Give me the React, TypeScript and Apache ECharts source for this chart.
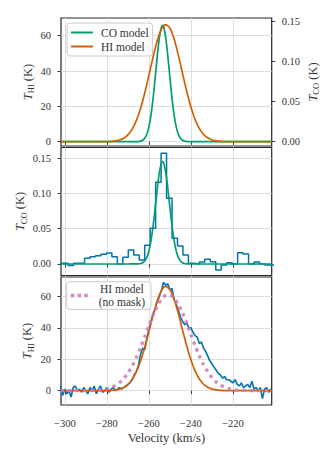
import React, { useEffect, useRef } from 'react';
import * as echarts from 'echarts';

// ---------- tick labels ----------
const xTicks = [-300, -280, -260, -240, -220];
const thiTicks = [0, 20, 40, 60];
const tcoTicks = [0, 0.05, 0.1, 0.15];

// ---------- HI model (K) ----------
const hiModelV = [-302, -290, -284, -280, -278, -276, -274, -272, -270, -268, -266, -264, -262, -260, -258, -256, -254, -252, -250, -248, -246, -244, -242, -240, -238, -236, -234, -232, -230, -228, -226, -224, -222, -218, -210, -201.6];
const hiModelT = [0, 0, 0.01, 0.07, 0.18, 0.43, 0.97, 2.0, 3.9, 7.0, 11.9, 18.7, 27.4, 37.6, 48.0, 57.3, 63.8, 66.3, 64.3, 58.1, 49.0, 38.6, 28.4, 19.5, 12.4, 7.4, 4.1, 2.2, 1.0, 0.5, 0.2, 0.08, 0.03, 0, 0, 0];

// ---------- CO model (K) ----------
const coModelV = [-302, -280, -270, -266, -265, -264, -263, -262, -261, -260, -259, -258, -257, -256, -255, -254, -253.5, -253, -252, -251, -250, -249, -248, -247, -246, -245, -244, -243, -242, -241, -240, -230, -201.6];
const coModelT = [0, 0, 0, 0.0001, 0.0002, 0.0007, 0.0018, 0.0043, 0.0093, 0.0184, 0.0331, 0.0539, 0.0797, 0.1069, 0.1299, 0.1432, 0.145, 0.1432, 0.1299, 0.1069, 0.0797, 0.0539, 0.0331, 0.0184, 0.0093, 0.0043, 0.0018, 0.0007, 0.0002, 0.0001, 0, 0, 0];

// ---------- CO spectrum (K), channel edges and values ----------
const coEdges = [-303.6, -301.0, -298.4, -295.8, -293.2, -290.6, -288.0, -285.4, -282.8, -280.2, -277.6, -275.0, -272.4, -269.8, -267.2, -264.6, -262.0, -259.4, -256.8, -254.2, -251.6, -249.0, -246.4, -243.8, -241.2, -238.6, -236.0, -233.4, -230.8, -228.2, -225.6, -223.0, -220.4, -217.8, -215.2, -212.6, -210.0, -207.4, -204.8, -202.2, -199.6];
const coData = [0.001, 0.001, -0.002, 0.001, 0.001, 0.008, 0.0104, 0.0118, 0.0137, 0.0156, 0.0104, 0.0, 0.0094, 0.0198, 0.0127, 0.0057, 0.0264, 0.0505, 0.1157, 0.1567, 0.093, 0.0363, 0.0255, 0.0127, 0.001, 0.0, 0.0028, 0.0066, 0.0033, -0.0085, -0.0014, 0.0019, 0.0, 0.016, 0.0142, 0.0, 0.0028, 0.0, -0.0014, -0.0014];

// ---------- HI spectrum (K) ----------
const hiDataV = [-302, -301, -300, -299, -298, -297, -296, -295, -294, -293, -292, -291, -290, -289, -288, -287, -286, -285, -284, -283, -282, -281, -280, -279, -278, -277, -276, -275, -274, -273, -272, -271, -270, -269, -268, -267, -266, -265, -264, -263, -262, -261, -260, -259, -258, -257, -256, -255, -254, -253, -252, -251, -250, -249, -248, -247, -246, -245, -244, -243, -242, -241, -240, -239, -238, -237, -236, -235, -234, -233, -232, -231, -230, -229, -228, -227, -226, -225, -224, -223, -222, -221, -220, -219, -218, -217, -216, -215, -214, -213, -212, -211, -210, -209, -208, -207, -206, -205, -204, -203, -202];
const hiDataT = [3, -3, 1, -2, 0, -4, 2, 3, 0, 1, -1, 2, 0, -2, 2, 0, 3, -2, 1, 3, -1, 0, 2, -1, 1, 2, 0, 1, 2, 1, 2, 3, 4, 5, 7, 10, 12, 16, 23, 27, 26, 33, 39, 44, 49, 52, 57, 60, 64, 69, 67, 68, 64, 65, 58, 55, 51, 47, 44, 42, 43, 40, 40, 37, 35, 34, 30, 31, 27, 25, 22, 19, 17, 15, 13, 11, 10, 8, 9, 7, 7, 6, 5, 7, 4, 3, 5, 2, 3, 4, 2, 6, 1, 2, 0, 2, -5, 1, 2, -1, 1];

// ---------- HI model, no mask (K) ----------
const hiNoMaskV = [-302, -294, -290, -286, -282, -280, -278, -276, -274, -272, -270, -268, -266, -264, -262, -260, -258, -256, -254, -252, -250, -248, -246, -244, -242, -240, -238, -236, -234, -232, -230, -228, -226, -224, -222, -220, -218, -214, -210, -201.6];
const hiNoMaskT = [0, 0, 0.05, 0.2, 0.68, 1.18, 2.0, 3.24, 5.07, 7.64, 11.1, 15.5, 21.0, 27.3, 34.2, 41.3, 48.0, 53.8, 58.2, 60.6, 60.8, 58.8, 54.8, 49.3, 42.6, 35.6, 28.6, 22.2, 16.5, 11.9, 8.25, 5.5, 3.55, 2.2, 1.32, 0.76, 0.42, 0.12, 0.03, 0];

const GREEN = '#029e73';
const ORANGE = '#d55e00';
const BLUE = '#0173b2';
const PINK = '#cc78bc';
const FONT = 'Liberation Serif, serif';
const TXT = '#333333';
const SPINE = '#262626';
const GRIDC = '#dadada';

const zip = (a: number[], b: number[]) => a.map((v, i) => [v, b[i]]);
const minus = (s: string) => s.replace('-', '\u2212');
const fmtInt = (v: number) => minus(String(Math.round(v)));
const fmt2 = (v: number) => minus(v.toFixed(2));

export default function App() {
  const ref = useRef<HTMLDivElement>(null);
  useEffect(() => {
    if (!ref.current) return;
    const chart = echarts.init(ref.current, undefined, { renderer: 'svg' });

    const gridBase = { left: 61, width: 210.7, height: 128, show: true, borderColor: SPINE, borderWidth: 1.2, backgroundColor: 'transparent', containLabel: false, outerBoundsMode: 'none' };
    const grids = [
      { ...gridBase, top: 18 },
      { ...gridBase, top: 147.5 },
      { ...gridBase, top: 277 },
    ];

    const tickStyle = { color: SPINE, width: 0.9 };
    const labelStyle = { fontFamily: FONT, fontSize: 10.5, color: TXT };
    const rich = {
      i: { fontFamily: FONT, fontStyle: 'italic', fontSize: 12.5, color: TXT, lineHeight: 16 },
      s: { fontFamily: FONT, fontSize: 8.5, color: TXT, verticalAlign: 'bottom', lineHeight: 16 },
      n: { fontFamily: FONT, fontSize: 12.5, color: TXT, lineHeight: 16 },
    };
    const yName = (sub: string) => `{i|T}{s|${sub}}{n| (K)}`;

    const mkX = (i: number, show: boolean) => ({
      type: 'value', gridIndex: i, min: -301.8, max: -201.6, splitNumber: 5,
      axisLine: { show: false },
      axisTick: { show: true, customValues: xTicks, length: 3.5, lineStyle: tickStyle },
      axisLabel: { show, customValues: xTicks, margin: 13, formatter: fmtInt, ...labelStyle },
      splitLine: { show: true, lineStyle: { color: GRIDC, width: 0.9 } },
      name: show ? 'Velocity (km/s)' : '', nameLocation: 'middle', nameGap: 26, nameMoveOverlap: false,
      nameTextStyle: { fontFamily: FONT, fontSize: 12.5, color: TXT },
    });

    const option = {
      animation: false,
      textStyle: { fontFamily: FONT },
      grid: grids,
      xAxis: [mkX(0, false), mkX(1, false), mkX(2, true)],
      yAxis: [
        {
          type: 'value', gridIndex: 0, min: -2.43, max: 70.0, splitNumber: 3, position: 'left',
          axisLine: { show: false },
          axisTick: { show: true, customValues: thiTicks, length: 3.5, lineStyle: tickStyle },
          axisLabel: { customValues: thiTicks, margin: 10, formatter: fmtInt, ...labelStyle },
          splitLine: { show: true, lineStyle: { color: GRIDC, width: 0.9 } },
          name: yName('HI'), nameLocation: 'middle', nameRotate: 90, nameGap: 25.5, nameMoveOverlap: false, nameTextStyle: { rich },
        },
        {
          type: 'value', gridIndex: 0, min: -0.00536, max: 0.1541, splitNumber: 3, position: 'right',
          axisLine: { show: false },
          axisTick: { show: true, customValues: tcoTicks, length: 3.5, lineStyle: tickStyle },
          axisLabel: { customValues: tcoTicks, margin: 10, formatter: fmt2, ...labelStyle },
          splitLine: { show: false },
          name: yName('CO'), nameLocation: 'middle', nameRotate: 90, nameGap: 33, nameMoveOverlap: false, nameTextStyle: { rich },
        },
        {
          type: 'value', gridIndex: 1, min: -0.0163, max: 0.1649, splitNumber: 4, position: 'left',
          axisLine: { show: false },
          axisTick: { show: true, customValues: tcoTicks, length: 3.5, lineStyle: tickStyle },
          axisLabel: { customValues: tcoTicks, margin: 10, formatter: fmt2, ...labelStyle },
          splitLine: { show: true, lineStyle: { color: GRIDC, width: 0.9 } },
          name: yName('CO'), nameLocation: 'middle', nameRotate: 90, nameGap: 33, nameMoveOverlap: false, nameTextStyle: { rich },
        },
        {
          type: 'value', gridIndex: 2, min: -9.1, max: 72.3, splitNumber: 4, position: 'left',
          axisLine: { show: false },
          axisTick: { show: true, customValues: thiTicks, length: 3.5, lineStyle: tickStyle },
          axisLabel: { customValues: thiTicks, margin: 10, formatter: fmtInt, ...labelStyle },
          splitLine: { show: true, lineStyle: { color: GRIDC, width: 0.9 } },
          name: yName('HI'), nameLocation: 'middle', nameRotate: 90, nameGap: 26, nameMoveOverlap: false, nameTextStyle: { rich },
        },
      ],
      legend: [
        {
          data: ['CO model', 'HI model'], left: 67, top: 23, orient: 'vertical',
          icon: 'rect', itemWidth: 22, itemHeight: 2, itemGap: 1,
          padding: [3, 4, 3, 4], backgroundColor: 'rgba(255,255,255,0.8)',
          borderColor: '#cccccc', borderWidth: 1, borderRadius: 3, selectedMode: false,
          textStyle: { fontFamily: FONT, fontSize: 11.5, color: TXT, lineHeight: 13, padding: [0, 0, 0, 3] },
        },
        {
          data: ['HI model (no mask)'], left: 66.7, top: 281.7, orient: 'vertical',
          icon: 'path://M0,0h4v4h-4zM7.5,0h4v4h-4zM15,0h4v4h-4z', itemWidth: 19, itemHeight: 3.6,
          padding: [1.5, 6, 1.5, 4], backgroundColor: 'rgba(255,255,255,0.8)',
          borderColor: '#cccccc', borderWidth: 1, borderRadius: 3, selectedMode: false,
          formatter: () => '{a|HI model}\n{a|(no mask)}',
          textStyle: {
            fontFamily: FONT,
            padding: [0, 0, 0, 5],
            rich: { a: { fontFamily: FONT, fontSize: 11.5, color: TXT, lineHeight: 12.7, align: 'center' } },
          },
        },
      ],
      series: [
        {
          name: 'CO model', type: 'line', xAxisIndex: 0, yAxisIndex: 1, data: zip(coModelV, coModelT),
          symbol: 'none', smooth: 0.2, color: GREEN, itemStyle: { color: GREEN }, lineStyle: { color: GREEN, width: 1.7 },
        },
        {
          name: 'HI model', type: 'line', xAxisIndex: 0, yAxisIndex: 0, data: zip(hiModelV, hiModelT),
          symbol: 'none', smooth: 0.25, color: ORANGE, itemStyle: { color: ORANGE }, lineStyle: { color: ORANGE, width: 1.7 },
        },
        {
          name: 'CO data', type: 'line', xAxisIndex: 1, yAxisIndex: 2, step: 'end',
          data: [...zip(coEdges.slice(0, coData.length), coData), [coEdges[coData.length], coData[coData.length - 1]]],
          symbol: 'none', color: BLUE, itemStyle: { color: BLUE }, lineStyle: { color: BLUE, width: 1.5 },
        },
        {
          name: 'CO model', type: 'line', xAxisIndex: 1, yAxisIndex: 2, data: zip(coModelV, coModelT),
          symbol: 'none', smooth: 0.2, color: GREEN, itemStyle: { color: GREEN }, lineStyle: { color: GREEN, width: 1.7 },
        },
        {
          name: 'HI data', type: 'line', xAxisIndex: 2, yAxisIndex: 3, data: zip(hiDataV, hiDataT),
          symbol: 'none', color: BLUE, itemStyle: { color: BLUE }, lineStyle: { color: BLUE, width: 1.6 },
        },
        {
          name: 'HI model', type: 'line', xAxisIndex: 2, yAxisIndex: 3, data: zip(hiModelV, hiModelT),
          symbol: 'none', smooth: 0.25, color: ORANGE, itemStyle: { color: ORANGE }, lineStyle: { color: ORANGE, width: 1.7 },
        },
        {
          name: 'HI model (no mask)', type: 'line', xAxisIndex: 2, yAxisIndex: 3, data: zip(hiNoMaskV, hiNoMaskT),
          symbol: 'none', smooth: 0.25, color: PINK, itemStyle: { color: PINK, opacity: 0.85 },
          lineStyle: { color: PINK, width: 3.3, type: [3.3, 4.2], cap: 'butt', opacity: 0.85 },
        },
      ],
    };
    chart.setOption(option as any);
    return () => chart.dispose();
  }, []);
  return <div ref={ref} style={{ position: 'absolute', left: 0, top: 0, width: 333, height: 457 }} />;
}
